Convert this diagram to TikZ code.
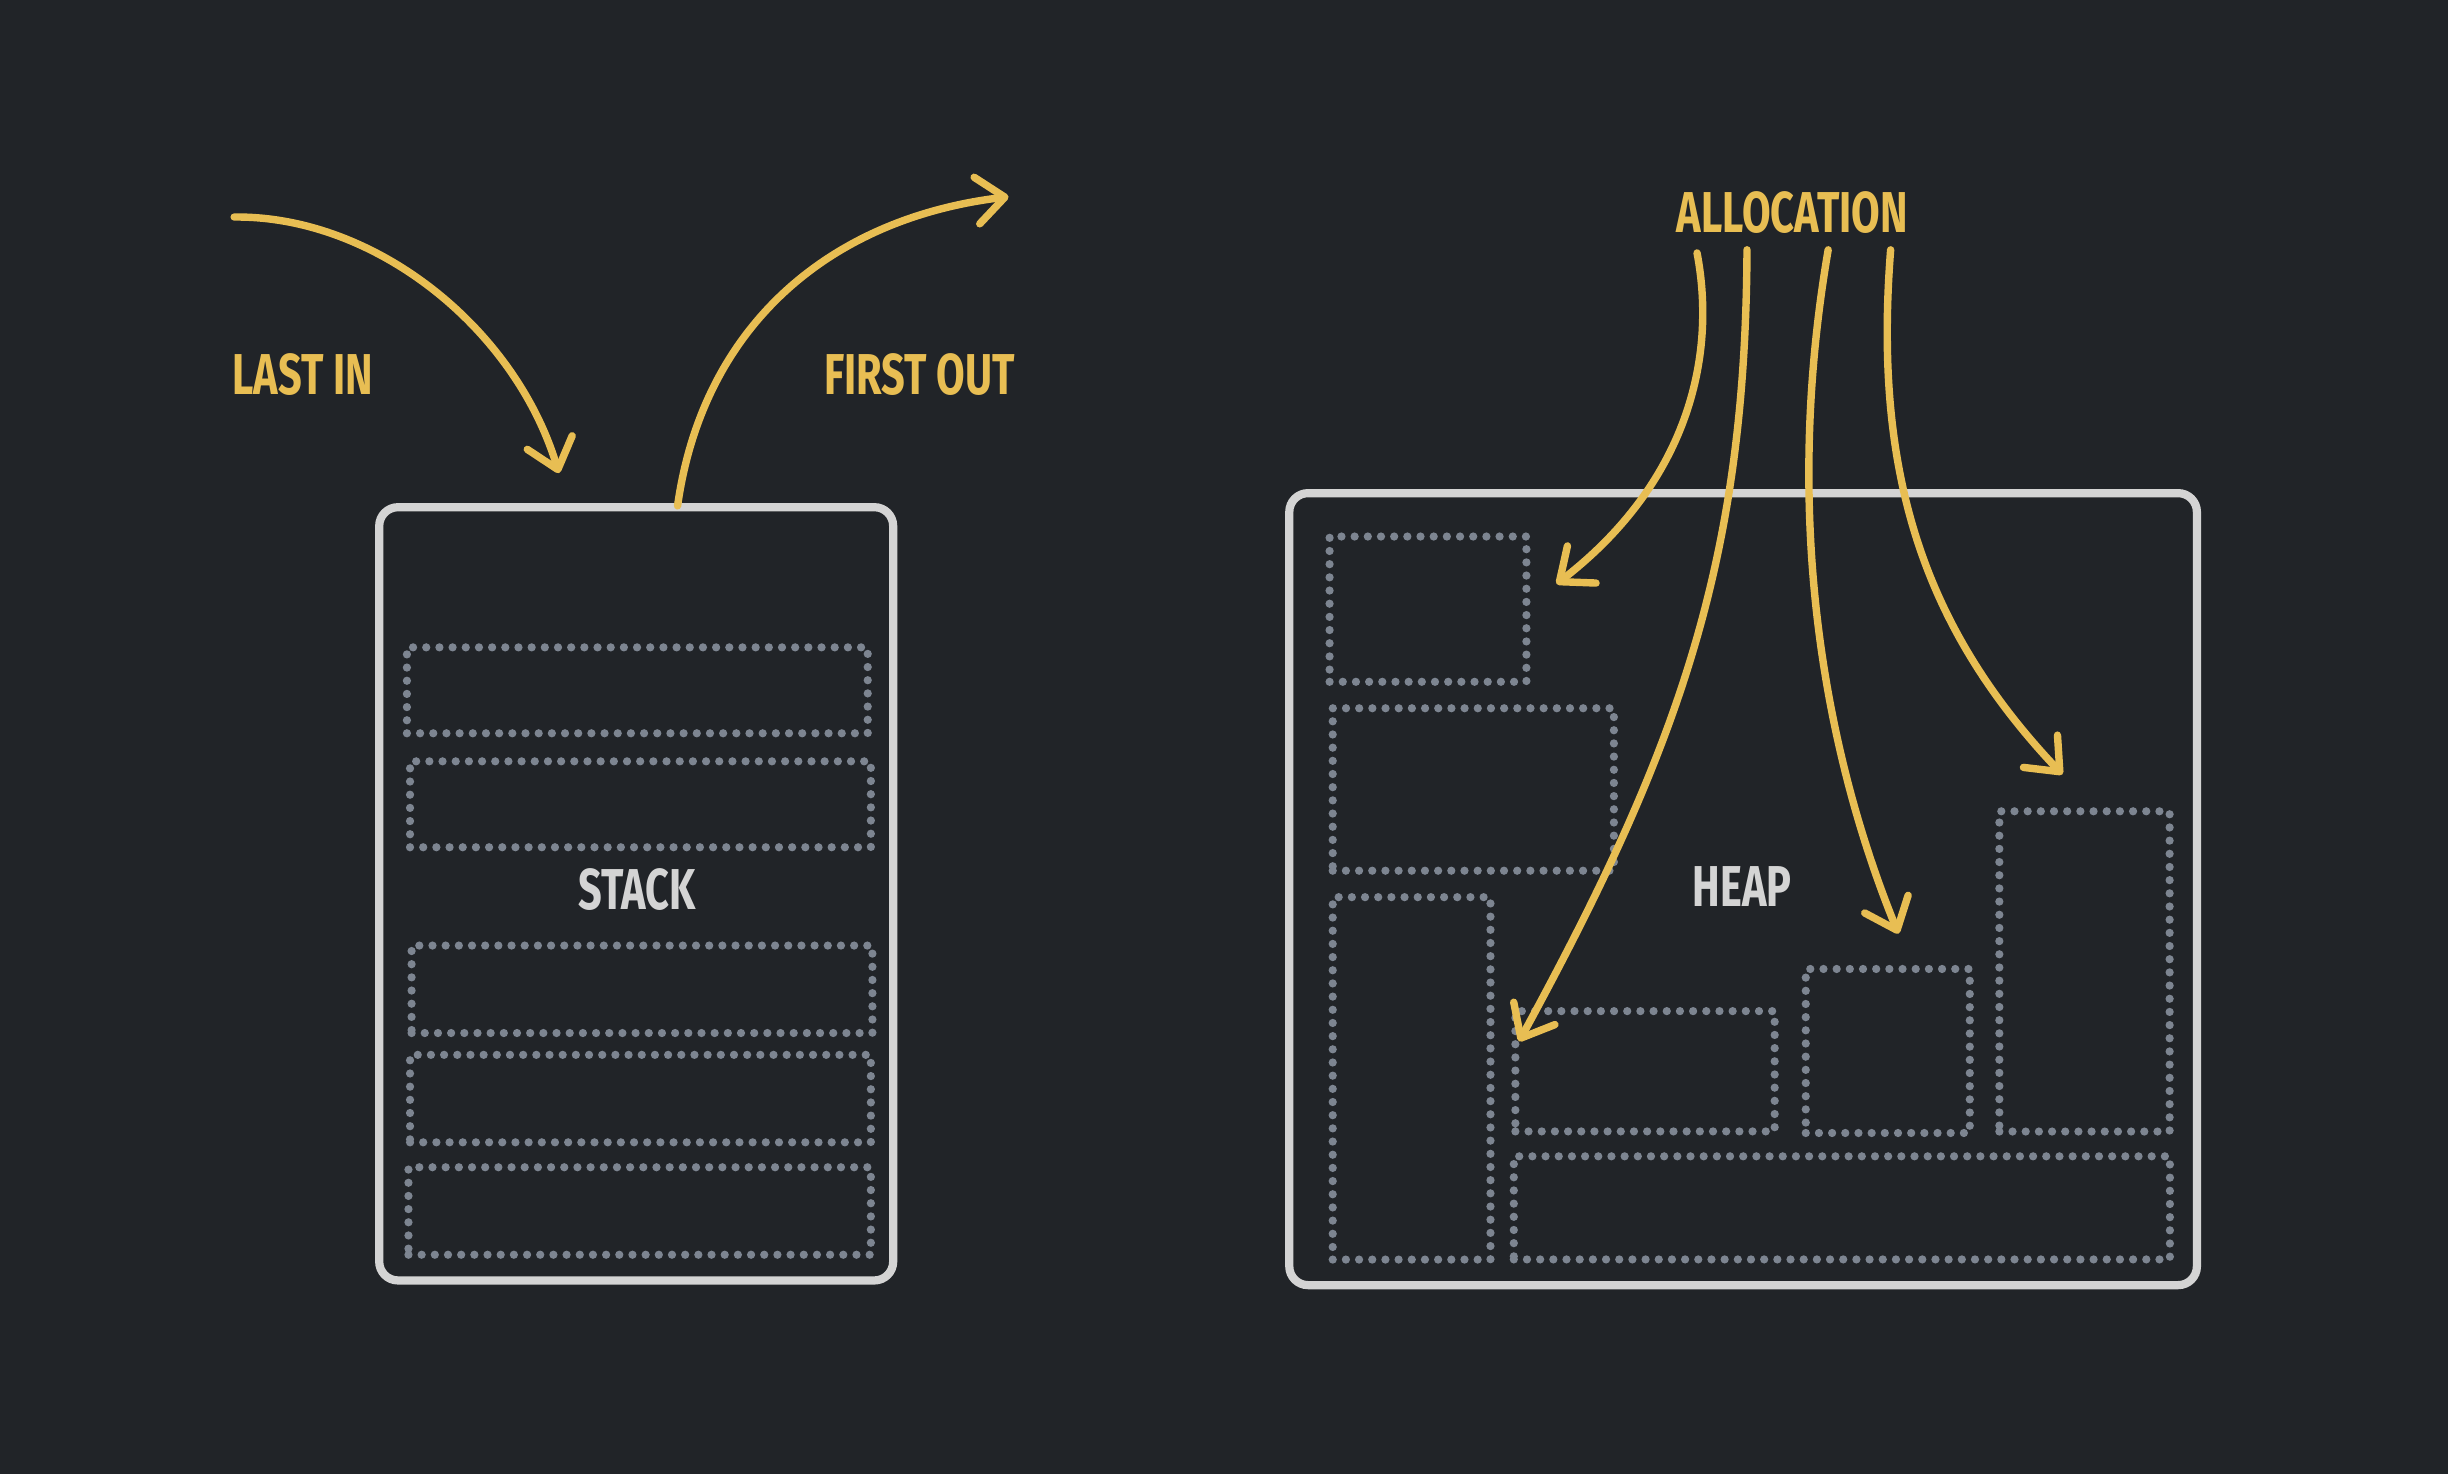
\documentclass[tikz,border=0pt]{standalone}
\usepackage{fontspec}
\newfontfamily\hand[FakeStretch=0.72]{Fira Sans}
\usetikzlibrary{arrows.meta}
\definecolor{bg}{HTML}{212428}
\definecolor{gold}{HTML}{E8BE53}
\definecolor{edge}{HTML}{D4D4D4}
\definecolor{dotc}{HTML}{7D8591}
\begin{document}
\begin{tikzpicture}[x=0.01cm,y=-0.01cm,
  outerbox/.style={draw=edge, line width=1.5pt, rounded corners=0.12cm, inner sep=0pt},
  slot/.style={draw=dotc, line width=1.5pt, dash pattern=on 0pt off 2.4pt, line cap=round, inner sep=0pt, anchor=north west},
  flow/.style={draw=gold, line width=1.35pt, line cap=round, -{Straight Barb[length=1.8mm,width=3mm,line cap=round,line join=round]}},
  lbl/.style={font=\hand\bfseries\fontsize{10.5}{12}\selectfont, text=gold, inner sep=0pt},
  tag/.style={lbl, text=edge}]
\fill[bg] (0,0) rectangle (1568,944);
\useasboundingbox (0,0) rectangle (1568,944);

% ---------- stack ----------
\node[outerbox, minimum width=3.29cm, minimum height=4.95cm] (stack) at (407.5,572.5) {};
\node[slot, minimum width=2.95cm, minimum height=0.55cm] (s1) at (258,412) {};
\node[slot, minimum width=2.95cm, minimum height=0.55cm] (s2) at (260,485) {};
\node[slot, minimum width=2.95cm, minimum height=0.56cm] (s3) at (261,603) {};
\node[slot, minimum width=2.95cm, minimum height=0.56cm] (s4) at (260,673) {};
\node[slot, minimum width=2.96cm, minimum height=0.56cm] (s5) at (259,745) {};
\node[tag] (stacklbl) at (408,570) {STACK};

\node[lbl] (lastin) at (194,240) {LAST IN};
\node[lbl] (firstout) at (589,240) {FIRST OUT};

\coordinate (liS) at (150,139);
\coordinate (liE) at (358,303);
\coordinate (foS) at (434,324);
\coordinate (foE) at (646,126);
\draw[flow] (liS) .. controls (240,138) and (330,210) .. (liE);
\draw[flow] (foS) .. controls (450,210) and (530,140) .. (foE);

% ---------- heap ----------
\node[outerbox, minimum width=5.81cm, minimum height=5.07cm] (heap) at (1116.5,569.5) {};
\node[slot, minimum width=1.26cm, minimum height=0.93cm] (hA) at (849,341) {};
\node[slot, minimum width=1.80cm, minimum height=1.04cm] (hB) at (851,451) {};
\node[slot, minimum width=1.01cm, minimum height=2.32cm] (hC) at (851,572) {};
\node[slot, minimum width=1.66cm, minimum height=0.77cm] (hD) at (968,645) {};
\node[slot, minimum width=1.05cm, minimum height=1.05cm] (hE) at (1154,618) {};
\node[slot, minimum width=1.09cm, minimum height=2.05cm] (hF) at (1278,517) {};
\node[slot, minimum width=4.20cm, minimum height=0.66cm] (hG) at (967,738) {};
\node[tag] (heaplbl) at (1116,568) {HEAP};

\node[lbl] (alloc) at (1148,136) {ALLOCATION};

\coordinate (a1S) at (1087,162);
\coordinate (a1E) at (997,374);
\coordinate (a2S) at (1119,160);
\coordinate (a2E) at (973,667);
\coordinate (a3S) at (1171,160);
\coordinate (a3E) at (1216,598);
\coordinate (a4S) at (1211,160);
\coordinate (a4E) at (1321,496);
\draw[flow] (a1S) .. controls (1100,230) and (1080,310) .. (a1E);
\draw[flow] (a2S) .. controls (1118,360) and (1075,480) .. (a2E);
\draw[flow] (a3S) .. controls (1140,340) and (1172,490) .. (a3E);
\draw[flow] (a4S) .. controls (1200,300) and (1230,400) .. (a4E);
\end{tikzpicture}
\end{document}
